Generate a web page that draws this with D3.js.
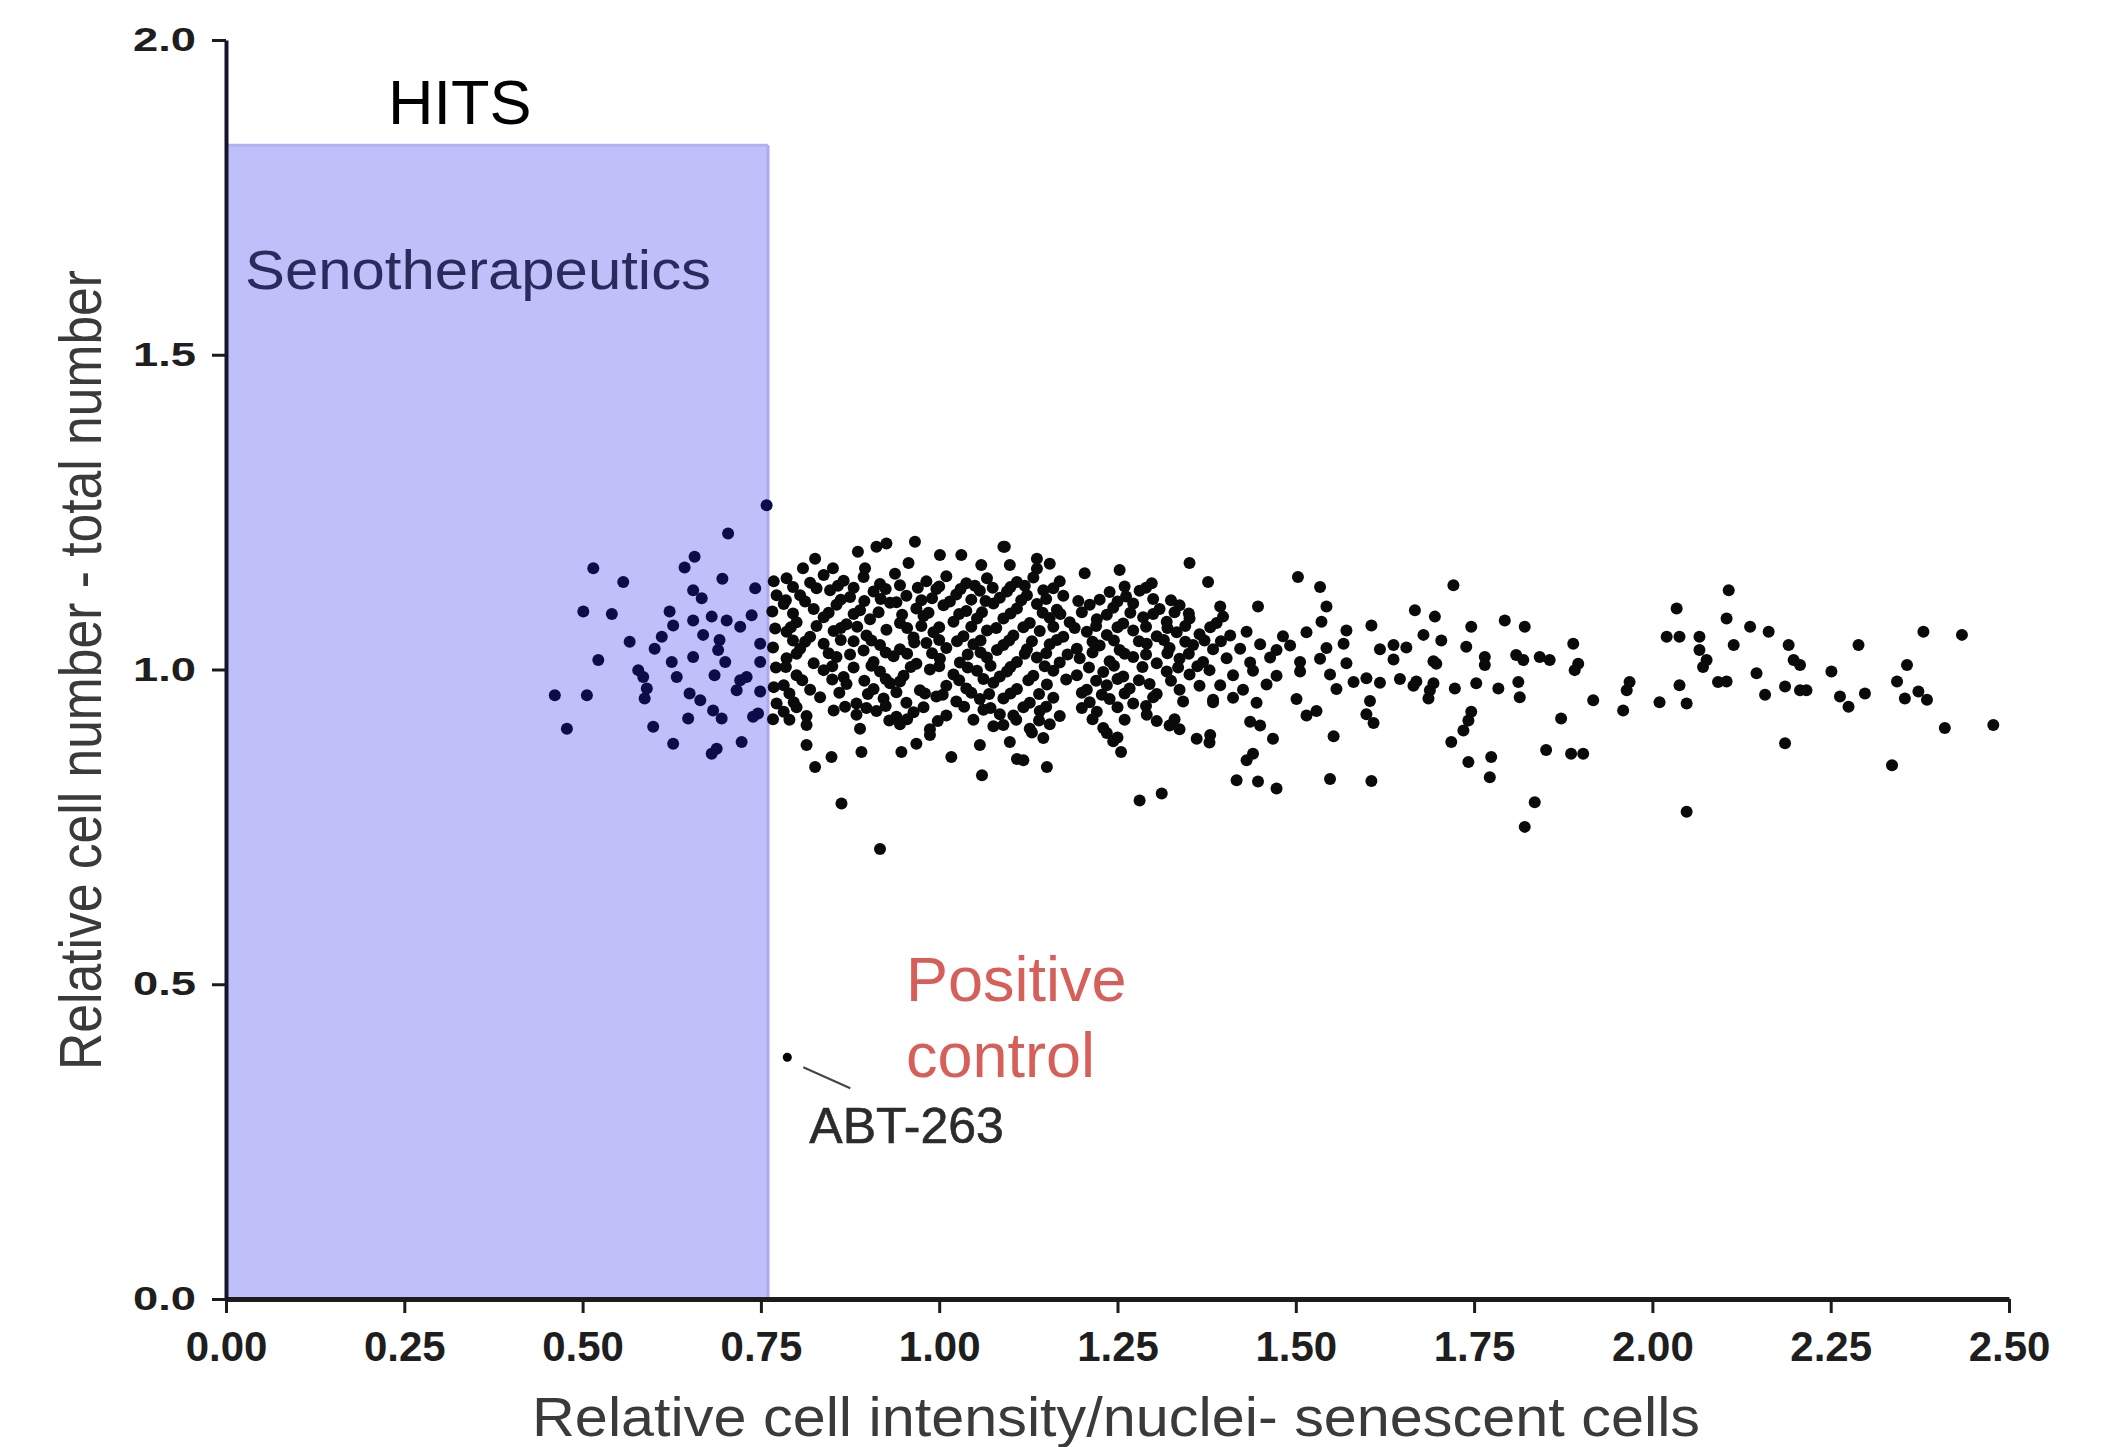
<!DOCTYPE html>
<html><head><meta charset="utf-8">
<script src="https://cdn.jsdelivr.net/npm/d3@7"></script>
<style>html,body{margin:0;background:#fff}</style>
</head><body>
<svg id="chart" width="2111" height="1447"></svg>
<script>
// ---------- data ----------
const xTicks = [0, 0.25, 0.5, 0.75, 1.0, 1.25, 1.5, 1.75, 2.0, 2.25, 2.5];
const xTickLabels = ["0.00","0.25","0.50","0.75","1.00","1.25","1.50","1.75","2.00","2.25","2.50"];
const yTicks = [0, 0.5, 1.0, 1.5, 2.0];
const yTickLabels = ["0.0","0.5","1.0","1.5","2.0"];
const hitsBand = [0, 0.76, 1.833];          // x from, x to, top value
const controlPoint = [0.787, 0.384];          // ABT-263
const xTitle = "Relative cell intensity/nuclei- senescent cells";
const yTitle = "Relative cell number - total number";

// points inside the HITS band
const hitPoints = [
[0.758,1.261],[0.704,1.216],[0.515,1.161],[0.557,1.139],[0.657,1.179],[0.643,1.162],[0.696,1.144],
[0.501,1.092],[0.541,1.088],[0.655,1.126],[0.667,1.113],[0.742,1.129],[0.622,1.092],[0.627,1.070],
[0.655,1.078],[0.681,1.084],[0.702,1.078],[0.721,1.068],[0.737,1.086],[0.566,1.044],[0.611,1.052],
[0.601,1.033],[0.669,1.055],[0.692,1.047],[0.690,1.031],[0.749,1.041],[0.522,1.015],[0.625,1.012],
[0.655,1.020],[0.700,1.012],[0.749,1.012],[0.578,0.999],[0.585,0.988],[0.632,0.988],[0.685,0.991],
[0.721,0.983],[0.730,0.988],[0.461,0.959],[0.506,0.959],[0.590,0.970],[0.587,0.954],[0.650,0.962],
[0.665,0.951],[0.716,0.967],[0.749,0.965],[0.683,0.935],[0.695,0.922],[0.648,0.922],[0.746,0.930],
[0.478,0.906],[0.599,0.909],[0.627,0.882],[0.681,0.866],[0.688,0.874],[0.723,0.885],[0.739,0.925]
];

// screened compounds, 0.76 - 1.10
const screenLow = [
[0.768,1.140],[0.772,1.118],[0.766,1.092],[0.770,1.065],[0.767,1.035],[0.771,1.003],[0.768,0.972],[0.772,0.946],[0.767,0.921],
[0.826,1.176],[0.809,1.161],[0.851,1.161],[0.886,1.187],[0.912,1.195],[0.926,1.200],[0.966,1.203],[0.957,1.169],
[1.001,1.182],[1.031,1.182],[1.090,1.195],[1.059,1.166],[0.896,1.161],
[0.786,1.145],[0.819,1.138],[0.838,1.150],[0.866,1.141],[0.894,1.147],[0.917,1.136],[0.938,1.152],[0.982,1.140],[1.010,1.148],[1.038,1.137],[1.067,1.145],
[0.795,1.131],[0.828,1.129],[0.858,1.133],[0.880,1.130],[0.925,1.128],[0.945,1.134],[0.970,1.130],[1.000,1.132],[1.030,1.128],[1.050,1.133],[1.075,1.130],
[0.805,1.118],[0.847,1.126],[0.875,1.115],[0.908,1.124],[0.954,1.117],[0.996,1.128],[1.024,1.119],[1.057,1.125],[1.085,1.114],
[0.785,1.110],[0.812,1.108],[0.862,1.111],[0.895,1.109],[0.918,1.112],[0.940,1.107],[0.975,1.110],[0.990,1.113],[1.015,1.108],[1.045,1.111],[1.065,1.109],
[0.782,1.104],[0.824,1.096],[0.856,1.103],[0.889,1.094],[0.931,1.106],[0.968,1.097],[1.006,1.102],[1.038,1.093],[1.076,1.105],
[0.795,1.089],[0.845,1.090],[0.880,1.088],[0.915,1.091],[0.948,1.087],[0.985,1.090],[1.028,1.088],[1.060,1.091],
[0.800,1.075],[0.838,1.083],[0.870,1.072],[0.903,1.080],[0.945,1.074],[0.978,1.085],[1.020,1.076],[1.053,1.081],
[0.792,1.067],[0.828,1.069],[0.862,1.066],[0.885,1.068],[0.955,1.066],[0.975,1.069],[1.000,1.067],[1.045,1.068],[1.080,1.066],
[0.786,1.060],[0.819,1.052],[0.852,1.061],[0.898,1.054],[0.926,1.063],[0.964,1.051],[0.992,1.059],[1.034,1.053],[1.067,1.062],
[0.795,1.046],[0.812,1.044],[0.862,1.047],[0.880,1.045],[0.905,1.046],[0.965,1.043],[1.000,1.047],[1.025,1.045],[1.058,1.046],
[0.805,1.033],[0.838,1.041],[0.894,1.030],[0.917,1.039],[0.945,1.032],[0.982,1.042],[1.010,1.034],[1.048,1.040],[1.081,1.031],
[0.800,1.025],[0.845,1.026],[0.875,1.024],[0.925,1.027],[0.955,1.025],[0.990,1.026],[1.040,1.024],[1.058,1.027],
[0.786,1.018],[0.824,1.010],[0.856,1.020],[0.908,1.012],[0.936,1.021],[0.968,1.009],[1.001,1.017],[1.029,1.011],[1.067,1.019],
[0.785,1.004],[0.850,1.005],[0.880,1.003],[0.905,1.006],[0.960,1.004],[1.000,1.005],[1.040,1.003],[1.072,1.006],
[0.800,0.991],[0.838,0.999],[0.866,0.988],[0.917,0.997],[0.950,0.990],[0.987,1.000],[1.020,0.992],[1.053,0.998],[1.085,0.989],
[0.808,0.983],[0.850,0.984],[0.895,0.982],[0.925,0.985],[0.945,0.981],[1.028,0.983],[1.062,0.985],
[0.782,0.975],[0.819,0.968],[0.870,0.977],[0.908,0.969],[0.931,0.978],[0.973,0.967],[1.010,0.974],[1.038,0.970],[1.076,0.979],
[0.790,0.962],[0.860,0.963],[0.900,0.961],[0.940,0.964],[0.980,0.962],[1.005,0.960],[1.045,0.963],[1.070,0.961],
[0.796,0.948],[0.833,0.956],[0.884,0.946],[0.922,0.954],[0.954,0.947],[0.996,0.957],[1.024,0.949],[1.057,0.953],
[0.800,0.940],[0.868,0.941],[0.898,0.939],[0.925,0.942],[0.978,0.940],[1.035,0.941],[1.072,0.939],
[0.782,0.933],[0.814,0.926],[0.852,0.935],[0.884,0.928],[0.912,0.934],[0.940,0.925],[0.964,0.932],[1.010,0.927],[1.062,0.936],[1.085,0.929],
[0.790,0.920],[0.930,0.919],[0.955,0.921],[0.998,0.918],[1.048,0.920],
[0.814,0.912],[0.889,0.906],[0.945,0.913],[0.987,0.905],[1.076,0.910],
[0.814,0.880],[0.849,0.861],[0.826,0.845],[0.891,0.869],[0.947,0.869],[0.968,0.882],[0.987,0.896],[1.017,0.861],
[1.057,0.880],[1.060,0.832],[1.109,0.858],[0.863,0.787],[0.917,0.715]
];

// screened compounds, 1.09 - 1.40
const screenMid = [
[1.092,1.195],[1.137,1.176],[1.204,1.153],[1.253,1.158],[1.351,1.169],[1.377,1.139],[1.298,1.137],
[1.099,1.166],[1.137,1.160],[1.155,1.168],
[1.109,1.139],[1.132,1.146],[1.169,1.140],
[1.100,1.131],[1.120,1.133],[1.160,1.129],[1.260,1.132],[1.290,1.130],
[1.095,1.124],[1.123,1.118],[1.146,1.126],[1.174,1.117],[1.239,1.123],[1.262,1.116],[1.281,1.125],
[1.115,1.110],[1.150,1.112],[1.195,1.109],[1.225,1.111],[1.250,1.108],[1.300,1.112],[1.325,1.110],
[1.109,1.097],[1.137,1.104],[1.165,1.095],[1.211,1.103],[1.244,1.098],[1.272,1.105],[1.309,1.096],[1.337,1.102],
[1.100,1.089],[1.145,1.090],[1.170,1.088],[1.200,1.091],[1.235,1.087],[1.268,1.090],[1.300,1.088],[1.330,1.091],[1.350,1.089],
[1.090,1.081],[1.127,1.074],[1.155,1.082],[1.183,1.075],[1.221,1.080],[1.258,1.073],[1.286,1.083],[1.319,1.076],[1.351,1.081],[1.389,1.074],
[1.118,1.067],[1.160,1.068],[1.190,1.066],[1.220,1.069],[1.250,1.067],[1.290,1.068],[1.320,1.066],[1.345,1.069],[1.380,1.067],
[1.104,1.054],[1.141,1.061],[1.174,1.052],[1.207,1.060],[1.235,1.055],[1.272,1.062],[1.305,1.053],[1.333,1.059],[1.365,1.056],
[1.098,1.046],[1.130,1.045],[1.165,1.047],[1.215,1.044],[1.245,1.046],[1.280,1.045],[1.315,1.047],[1.345,1.044],[1.372,1.046],[1.395,1.045],
[1.090,1.039],[1.123,1.032],[1.155,1.040],[1.193,1.033],[1.225,1.038],[1.253,1.031],[1.291,1.041],[1.323,1.034],[1.356,1.039],[1.384,1.032],
[1.120,1.025],[1.150,1.026],[1.180,1.024],[1.215,1.027],[1.260,1.025],[1.290,1.024],[1.320,1.026],[1.350,1.025],
[1.109,1.012],[1.137,1.019],[1.169,1.011],[1.197,1.018],[1.239,1.013],[1.272,1.020],[1.305,1.010],[1.337,1.017],[1.370,1.012],
[1.100,1.004],[1.148,1.005],[1.210,1.003],[1.245,1.006],[1.285,1.004],[1.335,1.003],[1.362,1.005],
[1.095,0.997],[1.132,0.990],[1.160,0.998],[1.193,0.991],[1.230,0.996],[1.258,0.989],[1.319,0.997],[1.351,0.992],[1.379,0.999],
[1.125,0.983],[1.178,0.984],[1.220,0.982],[1.250,0.985],[1.280,0.983],[1.325,0.982],
[1.109,0.969],[1.151,0.976],[1.207,0.968],[1.235,0.975],[1.267,0.970],[1.295,0.977],[1.337,0.968],[1.365,0.974],
[1.100,0.962],[1.140,0.961],[1.200,0.963],[1.228,0.960],[1.260,0.962],[1.305,0.961],
[1.090,0.954],[1.127,0.947],[1.160,0.955],[1.211,0.948],[1.239,0.953],[1.272,0.946],[1.300,0.956],[1.342,0.949],[1.384,0.952],
[1.118,0.940],[1.150,0.941],[1.200,0.939],[1.250,0.940],[1.290,0.942],
[1.104,0.927],[1.141,0.934],[1.169,0.926],[1.221,0.933],[1.291,0.928],
[1.108,0.920],[1.140,0.919],[1.215,0.921],[1.260,0.920],[1.305,0.918],[1.330,0.921],
[1.090,0.912],[1.127,0.906],[1.155,0.913],[1.230,0.907],[1.323,0.911],[1.337,0.905],
[1.130,0.900],[1.235,0.899],[1.250,0.892],
[1.099,0.885],[1.146,0.891],[1.244,0.886],[1.361,0.890],[1.379,0.884],
[1.255,0.869],[1.118,0.856],[1.151,0.845],[1.281,0.792],[1.312,0.803]
];

// screened compounds, 1.38 - 2.50
const screenHigh = [
[1.503,1.147],[1.534,1.131],[1.447,1.100],[1.394,1.100],[1.543,1.100],[1.536,1.076],[1.398,1.084],[1.571,1.062],
[1.606,1.070],[1.667,1.094],[1.679,1.055],[1.695,1.084],
[1.408,1.054],[1.431,1.060],[1.482,1.053],[1.515,1.059],
[1.422,1.033],[1.450,1.040],[1.473,1.031],[1.492,1.038],[1.543,1.034],[1.567,1.041],[1.618,1.032],[1.637,1.039],[1.655,1.035],
[1.403,1.018],[1.436,1.011],[1.464,1.019],[1.506,1.012],[1.534,1.017],[1.571,1.010],[1.637,1.016],[1.693,1.013],
[1.412,0.991],[1.440,0.998],[1.473,0.990],[1.506,0.997],[1.548,0.992],
[1.581,0.980],[1.599,0.986],[1.618,0.979],[1.646,0.985],[1.669,0.981],
[1.394,0.975],[1.426,0.968],[1.459,0.976],[1.557,0.969],[1.665,0.974],[1.688,0.967],
[1.384,0.948],[1.412,0.955],[1.445,0.947],[1.501,0.953],[1.604,0.950],
[1.515,0.927],[1.529,0.934],[1.599,0.929],
[1.436,0.917],[1.450,0.911],[1.609,0.915],
[1.380,0.896],[1.468,0.890],[1.553,0.894],
[1.431,0.856],[1.440,0.866],
[1.417,0.824],[1.447,0.822],[1.548,0.826],[1.606,0.823],[1.473,0.811],
[1.721,1.134],[1.746,1.068],[1.793,1.078],[1.821,1.068],[1.704,1.046],[1.739,1.036],[1.889,1.041],
[1.697,1.009],[1.765,1.020],[1.765,1.007],[1.809,1.023],[1.819,1.015],[1.842,1.020],[1.856,1.015],
[1.896,1.009],[1.891,0.999],[1.693,0.978],[1.686,0.954],[1.723,0.970],[1.753,0.978],[1.784,0.970],
[1.812,0.980],[1.814,0.956],[1.917,0.951],[1.968,0.980],[1.964,0.967],[1.959,0.935],[2.010,0.948],
[2.038,0.975],[2.048,0.946],[2.034,1.097],[2.020,1.052],[2.038,1.052],[2.066,1.052],[2.066,1.031],
[2.076,1.015],[2.071,1.004],[2.092,0.980],[1.746,0.933],[1.742,0.919],[1.735,0.903],[1.718,0.885],
[1.872,0.922],[1.742,0.853],[1.774,0.861],[1.772,0.829],[1.851,0.872],[1.886,0.866],[1.903,0.866],
[1.835,0.789],[1.821,0.750],[2.048,0.774],
[2.107,1.126],[2.104,1.081],[2.137,1.068],[2.163,1.060],[2.114,1.039],[2.191,1.039],[2.289,1.039],
[2.380,1.060],[2.434,1.055],[2.198,1.015],[2.207,1.007],[2.104,0.981],[2.146,0.994],[2.251,0.997],
[2.357,1.007],[2.343,0.981],[2.186,0.973],[2.207,0.967],[2.216,0.967],[2.158,0.960],[2.263,0.957],
[2.275,0.941],[2.298,0.962],[2.354,0.954],[2.373,0.965],[2.385,0.952],[2.410,0.907],[2.478,0.912],
[2.186,0.883],[2.336,0.848]
];

// ---------- drawing ----------
const W = 2111, H = 1447;
const svg = d3.select("#chart");
const font = "'Liberation Sans', Arial, Helvetica, sans-serif";
const x = d3.scaleLinear().domain([0, 2.5]).range([226, 2009]);
const y = d3.scaleLinear().domain([0, 2.0]).range([1299, 40]);

svg.append("rect").attr("width", W).attr("height", H).attr("fill", "#fff");

// HITS band
svg.append("rect")
  .attr("x", x(hitsBand[0])).attr("y", y(hitsBand[2]))
  .attr("width", x(hitsBand[1]) - x(hitsBand[0]))
  .attr("height", y(0) - y(hitsBand[2]))
  .attr("fill", "#bfbffa");
svg.append("line")
  .attr("x1", x(hitsBand[1])).attr("x2", x(hitsBand[1]))
  .attr("y1", y(hitsBand[2])).attr("y2", y(0))
  .attr("stroke", "#aaaaf2").attr("stroke-width", 3);
svg.append("line")
  .attr("x1", x(hitsBand[0])).attr("x2", x(hitsBand[1]))
  .attr("y1", y(hitsBand[2])).attr("y2", y(hitsBand[2]))
  .attr("stroke", "#b0b0f4").attr("stroke-width", 3);

// labels in band
svg.append("text").text("HITS")
  .attr("x", 388).attr("y", 124)
  .attr("font-family", font).attr("font-size", 63).attr("fill", "#000");
svg.append("text").text("Senotherapeutics")
  .attr("x", 245).attr("y", 289)
  .attr("textLength", 466).attr("lengthAdjust", "spacingAndGlyphs")
  .attr("font-family", font).attr("font-size", 56).attr("fill", "#2a2a5c");

// points
const screenPoints = screenLow.concat(screenMid, screenHigh);
svg.append("g").selectAll("circle").data(screenPoints).join("circle")
  .attr("cx", d => x(d[0])).attr("cy", d => y(d[1])).attr("r", 6).attr("fill", "#0a0a0a");
svg.append("g").selectAll("circle").data(hitPoints).join("circle")
  .attr("cx", d => x(d[0])).attr("cy", d => y(d[1])).attr("r", 6).attr("fill", "#0c0c4a");

// ABT-263 control
svg.append("circle").attr("cx", x(controlPoint[0])).attr("cy", y(controlPoint[1])).attr("r", 4.5).attr("fill", "#000");
svg.append("line")
  .attr("x1", x(controlPoint[0]) + 16).attr("y1", y(controlPoint[1]) + 10)
  .attr("x2", x(controlPoint[0]) + 63).attr("y2", y(controlPoint[1]) + 31)
  .attr("stroke", "#444").attr("stroke-width", 2);
svg.append("text").text("ABT-263")
  .attr("x", x(controlPoint[0]) + 22).attr("y", y(controlPoint[1]) + 86)
  .attr("font-family", font).attr("font-size", 50).attr("fill", "#2b2b2b")
  .attr("stroke", "#2b2b2b").attr("stroke-width", 0.6);
const pc = svg.append("text").attr("font-family", font).attr("font-size", 63).attr("fill", "#d65f59");
pc.append("tspan").attr("x", 906).attr("y", 1001).text("Positive");
pc.append("tspan").attr("x", 906).attr("y", 1077).text("control");

// axes
const xAxis = svg.append("g").attr("transform", `translate(0,${y(0)})`)
  .call(d3.axisBottom(x).tickValues(xTicks).tickFormat((d, i) => xTickLabels[i])
    .tickSize(14).tickSizeOuter(0).tickPadding(18));
xAxis.select(".domain").attr("stroke", "#1c1c1c").attr("stroke-width", 5);
xAxis.selectAll(".tick line").attr("stroke", "#1c1c1c").attr("stroke-width", 3);
xAxis.selectAll(".tick text")
  .attr("font-family", font).attr("font-size", 42).attr("font-weight", "bold").attr("fill", "#1e1e1e");

const yAxis = svg.append("g").attr("transform", `translate(${x(0)},0)`)
  .call(d3.axisLeft(y).tickValues(yTicks).tickFormat((d, i) => yTickLabels[i])
    .tickSize(14).tickSizeOuter(0).tickPadding(16));
yAxis.select(".domain").attr("stroke", "#141430").attr("stroke-width", 4);
yAxis.selectAll(".tick line").attr("stroke", "#1c1c1c").attr("stroke-width", 3);
yAxis.selectAll(".tick text")
  .attr("font-family", font).attr("font-size", 33).attr("font-weight", "bold").attr("fill", "#1e1e1e")
  .attr("textLength", 63).attr("lengthAdjust", "spacingAndGlyphs");

// axis titles
svg.append("text").text(xTitle)
  .attr("x", (532 + 1700) / 2).attr("y", 1436).attr("text-anchor", "middle")
  .attr("textLength", 1168).attr("lengthAdjust", "spacingAndGlyphs")
  .attr("font-family", font).attr("font-size", 56).attr("fill", "#3a3a3a");
svg.append("text").text(yTitle)
  .attr("transform", `translate(101,670) rotate(-90)`).attr("text-anchor", "middle")
  .attr("textLength", 800).attr("lengthAdjust", "spacingAndGlyphs")
  .attr("font-family", font).attr("font-size", 60).attr("fill", "#3a3a3a");
</script>
</body></html>
